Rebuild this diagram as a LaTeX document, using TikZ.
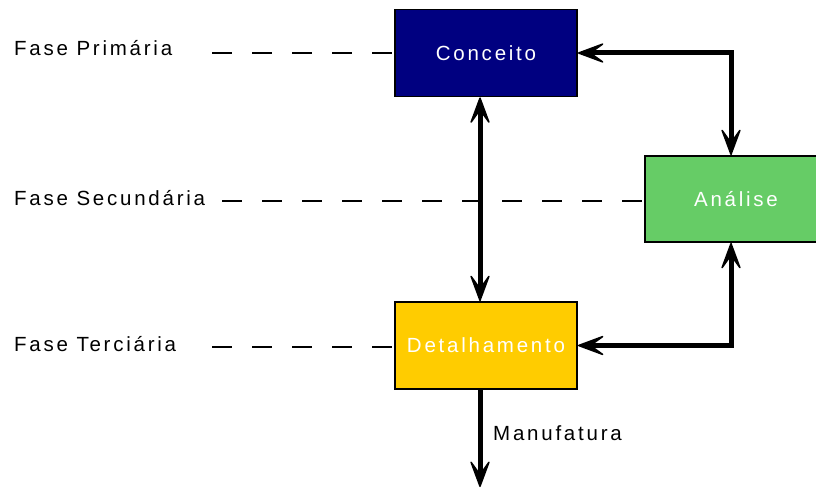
\documentclass[tikz,border=0pt]{standalone}
\usepackage{fontspec}
\setmainfont{Liberation Sans}[LetterSpace=13.5]
\usetikzlibrary{arrows.meta}
\definecolor{navybox}{RGB}{0,0,128}
\definecolor{greenbox}{RGB}{102,204,102}
\definecolor{yellowbox}{RGB}{255,204,0}
\tikzset{
  phasebox/.style={draw=black, line width=1.8pt, minimum width=182pt, minimum height=87pt,
    inner sep=0pt, text=white, font=\fontsize{20.5}{24}\selectfont},
  phaselabel/.style={anchor=base west, inner sep=0pt, text=black, font=\fontsize{20.5}{24}\selectfont},
  guide/.style={line width=1.7pt, dash pattern=on 20pt off 20pt},
  flow/.style={line width=5pt},
  head/.tip={Stealth[length=31pt, width=23pt, inset=16pt, round, line width=1.5pt]},
  both/.style={flow, head-head},
  fwd/.style={flow, -head}
}
\begin{document}
\begin{tikzpicture}[x=1pt, y=-1pt]
  \useasboundingbox (0,0) rectangle (816,487);

  % phase boxes
  \node[phasebox, fill=navybox]   (conceito) at (486,53)    {Conceito};
  \node[phasebox, fill=greenbox, minimum height=86pt] (analise) at (736,199) {Análise};
  \node[phasebox, fill=yellowbox] (detal)    at (486,345.5) {Detalhamento};

  % phase labels
  \node[phaselabel] (lprim) at (14,56)  {Fase Primária};
  \node[phaselabel] (lsec)  at (14,205) {Fase Secundária};
  \node[phaselabel] (lter)  at (14,351) {Fase Terciária};

  % guide lines from labels to boxes
  \coordinate (gprim) at (212,53);
  \coordinate (gsec)  at (222,201);
  \coordinate (gter)  at (212,347);
  \draw[guide] (gprim) -- (gprim -| conceito.west);
  \draw[guide] (gsec)  -- (gsec -| analise.west);
  \draw[guide] (gter)  -- (gter -| detal.west);

  % flow connectors
  \draw[both] ([xshift=-6pt]conceito.south) -- ([xshift=-6pt]detal.north);
  \draw[both] (conceito.east) -| ([xshift=-5pt]analise.north);
  \draw[both] (detal.east) -| ([xshift=-5pt]analise.south);
  \coordinate (out) at (480,487);
  \draw[fwd] ([xshift=-6pt]detal.south) -- (out);
  \node[phaselabel] (lmanuf) at (493,440) {Manufatura};
\end{tikzpicture}
\end{document}
